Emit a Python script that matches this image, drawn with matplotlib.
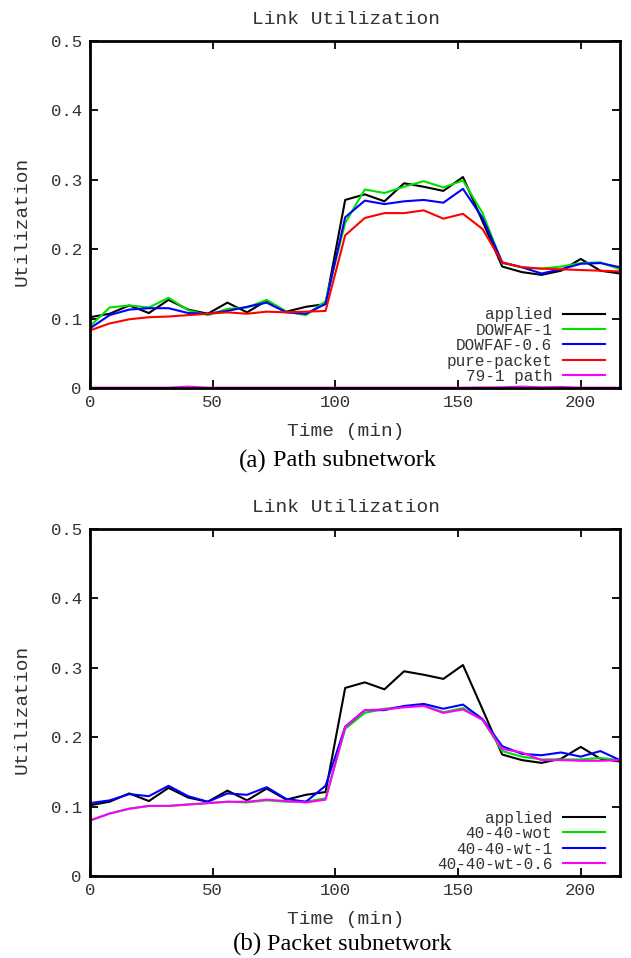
import matplotlib.pyplot as plt

plt.rcParams['font.family'] = ['Liberation Mono', 'DejaVu Sans Mono']

t = [0, 8, 16, 24, 32, 40, 48, 56, 64, 72, 80, 88, 96, 104, 112, 120, 128,
     136, 144, 152, 160, 168, 176, 184, 192, 200, 208, 216]

applied = [0.102, 0.107, 0.119, 0.108, 0.127, 0.113, 0.107, 0.123, 0.109, 0.126,
           0.110, 0.117, 0.121, 0.271, 0.279, 0.269, 0.295, 0.290, 0.284, 0.304,
           0.240, 0.175, 0.167, 0.163, 0.169, 0.186, 0.169, 0.165]

# (a) path subnetwork
dowfaf_1 = [0.089, 0.116, 0.119, 0.116, 0.130, 0.112, 0.105, 0.114, 0.116, 0.127,
            0.110, 0.105, 0.125, 0.238, 0.286, 0.281, 0.290, 0.298, 0.289, 0.299,
            0.252, 0.180, 0.174, 0.172, 0.175, 0.180, 0.181, 0.171]
dowfaf_06 = [0.086, 0.105, 0.113, 0.115, 0.115, 0.108, 0.107, 0.111, 0.117, 0.123,
             0.109, 0.107, 0.121, 0.246, 0.270, 0.265, 0.269, 0.271, 0.267, 0.287,
             0.245, 0.181, 0.174, 0.165, 0.171, 0.179, 0.180, 0.174]
pure_packet = [0.083, 0.093, 0.099, 0.102, 0.103, 0.105, 0.107, 0.109, 0.107, 0.110,
               0.109, 0.110, 0.111, 0.220, 0.245, 0.252, 0.252, 0.256, 0.244, 0.251,
               0.229, 0.181, 0.174, 0.172, 0.171, 0.170, 0.169, 0.168]
path_79_1 = [0.0005, 0.0005, 0.0005, 0.0005, 0.0005, 0.002, 0.0005, 0.0005, 0.0005, 0.0005,
             0.0005, 0.0005, 0.0005, 0.0005, 0.0005, 0.0005, 0.0005, 0.0005, 0.0005, 0.0005,
             0.0008, 0.001, 0.002, 0.001, 0.0015, 0.0005, 0.0005, 0.0005]

# (b) packet subnetwork
wot = [0.080, 0.090, 0.097, 0.101, 0.101, 0.103, 0.105, 0.107, 0.106, 0.109,
       0.107, 0.107, 0.112, 0.212, 0.235, 0.241, 0.244, 0.246, 0.236, 0.242,
       0.225, 0.180, 0.172, 0.168, 0.168, 0.168, 0.170, 0.167]
wt_1 = [0.105, 0.109, 0.118, 0.115, 0.130, 0.115, 0.107, 0.119, 0.117, 0.128,
        0.111, 0.107, 0.130, 0.215, 0.239, 0.239, 0.245, 0.248, 0.241, 0.247,
        0.226, 0.187, 0.176, 0.174, 0.178, 0.172, 0.180, 0.167]
wt_06 = [0.080, 0.090, 0.097, 0.101, 0.101, 0.103, 0.105, 0.107, 0.107, 0.110,
         0.108, 0.106, 0.110, 0.215, 0.239, 0.240, 0.243, 0.245, 0.235, 0.240,
         0.225, 0.183, 0.178, 0.167, 0.167, 0.166, 0.166, 0.167]

GREEN = '#00e000'
TXT = '#333333'
W, H = 631, 958

fig = plt.figure(figsize=(6.31, 9.58), dpi=100)
ax1 = fig.add_axes([90 / W, 1 - 388 / H, 530 / W, 347 / H])
ax2 = fig.add_axes([90 / W, 1 - 876 / H, 530 / W, 347 / H])

ax1.plot(t, applied, color='black', lw=1.5, label='applied')
ax1.plot(t, dowfaf_1, color=GREEN, lw=1.5, label='DOWFAF-1')
ax1.plot(t, dowfaf_06, color='#0000ff', lw=1.5, label='DOWFAF-0.6')
ax1.plot(t, pure_packet, color='#ff0000', lw=1.5, label='pure-packet')
ax1.plot(t, path_79_1, color='#ff00ff', lw=1.5, label='79-1 path')

ax2.plot(t, applied, color='black', lw=1.5, label='applied')
ax2.plot(t, wot, color=GREEN, lw=1.5, label='40-40-wot')
ax2.plot(t, wt_1, color='#0000ff', lw=1.5, label='40-40-wt-1')
ax2.plot(t, wt_06, color='#ff00ff', lw=1.5, label='40-40-wt-0.6')

for ax, top in ((ax1, 0), (ax2, 488)):
    ax.set_xlim(0, 216)
    ax.set_ylim(0, 0.5)
    ax.set_xticks([0, 50, 100, 150, 200])
    ax.set_yticks([0, 0.1, 0.2, 0.3, 0.4, 0.5])
    ax.set_yticklabels(['0', '0.1', '0.2', '0.3', '0.4', '0.5'])
    ax.tick_params(direction='in', length=6, width=1.3, top=True, right=True,
                   labelsize=12.5, labelcolor=TXT, pad=6)
    ax.tick_params(axis='x', pad=5)
    for s in ax.spines.values():
        s.set_linewidth(2.0)
    fig.text(346 / W, 1 - (20 + top) / H, 'Link Utilization', fontsize=14,
             color=TXT, ha='center', va='center')
    fig.text(346 / W, 1 - (431 + top) / H, 'Time (min)', fontsize=14,
             color=TXT, ha='center', va='center')
    fig.text(22 / W, 1 - (221 + top) / H, 'Utilization', fontsize=14,
             color=TXT, ha='center', va='center', rotation=90)
    leg = ax.legend(loc='lower right', frameon=False, markerfirst=False,
                    fontsize=11.5, handlelength=2.6, handletextpad=0.7,
                    labelspacing=0.03, borderpad=0,
                    bbox_to_anchor=(523 / 530, -4 / 347))
    for txt in leg.get_texts():
        txt.set_color(TXT)

fig.text(267 / W, 1 - 461 / H, '(a)', family='Liberation Serif', fontsize=18, ha='right', va='center')
fig.text(273 / W, 1 - 461 / H, 'Path subnetwork', family='Liberation Serif', fontsize=17.5, ha='left', va='center')
fig.text(262 / W, 1 - 944 / H, '(b)', family='Liberation Serif', fontsize=18, ha='right', va='center')
fig.text(267 / W, 1 - 944 / H, 'Packet subnetwork', family='Liberation Serif', fontsize=17.5, ha='left', va='center')

plt.savefig('out.png', dpi=100)
